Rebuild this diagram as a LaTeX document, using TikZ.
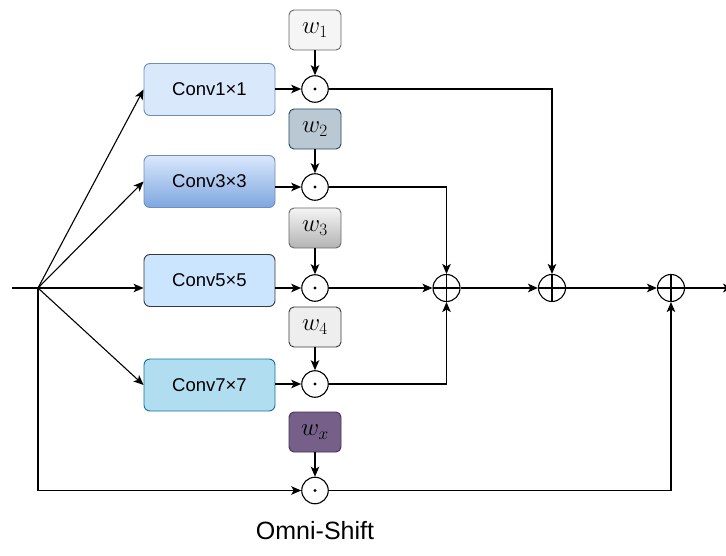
\documentclass[tikz,border=0pt]{standalone}
\usepackage{fontspec}
\setmainfont{Liberation Sans}
\usetikzlibrary{arrows.meta}
\definecolor{cOneFill}{HTML}{DAE8FC}
\definecolor{cOneLine}{HTML}{6C8EBF}
\definecolor{cTwoTop}{HTML}{DAE8FC}
\definecolor{cTwoBot}{HTML}{7EA6E0}
\definecolor{cThreeFill}{HTML}{CCE5FF}
\definecolor{cThreeLine}{HTML}{36393D}
\definecolor{cFourFill}{HTML}{B1DDF0}
\definecolor{cFourLine}{HTML}{10739E}
\definecolor{wOneFill}{HTML}{F5F5F5}
\definecolor{wOneLine}{HTML}{666666}
\definecolor{wTwoFill}{HTML}{BAC8D3}
\definecolor{wTwoLine}{HTML}{23445D}
\definecolor{wThreeBot}{HTML}{B3B3B3}
\definecolor{wFourFill}{HTML}{EEEEEE}
\definecolor{wXFill}{HTML}{76608A}
\definecolor{wXLine}{HTML}{432D57}
\tikzset{
  conv/.style={draw, rounded corners=6pt, minimum width=131pt, minimum height=52pt,
    line width=0.9pt, inner sep=0pt, font=\fontsize{18.5}{22}\selectfont},
  wbox/.style={draw, rounded corners=5pt, minimum width=52pt, minimum height=40pt,
    line width=0.9pt, inner sep=0pt, font=\fontsize{23}{26}\selectfont},
  odotc/.style={circle, draw, fill=white, minimum size=26.5pt, inner sep=0pt, line width=1.1pt,
    path picture={\fill[black] (path picture bounding box.center) circle (1.7pt);}},
  opluc/.style={circle, draw, fill=white, minimum size=27pt, inner sep=0pt, line width=1.1pt,
    path picture={\draw[black, line width=1.1pt] (path picture bounding box.north) -- (path picture bounding box.south)
      (path picture bounding box.west) -- (path picture bounding box.east);}},
  conn/.style={line width=1.1pt, -{Stealth[length=10pt,width=8.5pt,inset=2.5pt]}},
  plain/.style={line width=1.1pt}
}
\begin{document}
\begin{tikzpicture}[x=1pt,y=-1pt]
\useasboundingbox (0,0) rectangle (726,556);
% conv boxes
\node[conv, fill=cOneFill, draw=cOneLine] (c1) at (209.5,89.5) {Conv1×1};
\node[conv, top color=cTwoTop, bottom color=cTwoBot, draw=cOneLine] (c2) at (209.5,181.5) {Conv3×3};
\node[conv, fill=cThreeFill, draw=cThreeLine] (c3) at (209.5,280.5) {Conv5×5};
\node[conv, fill=cFourFill, draw=cFourLine] (c4) at (209.5,385) {Conv7×7};
% weight boxes
\node[wbox, fill=wOneFill, draw=wOneLine] (w1) at (315,30) {$w_1$};
\node[wbox, fill=wTwoFill, draw=wTwoLine] (w2) at (315,129) {$w_2$};
\node[wbox, top color=wOneFill, bottom color=wThreeBot, draw=wOneLine] (w3) at (315,228) {$w_3$};
\node[wbox, fill=wFourFill, draw=cThreeLine] (w4) at (315,327) {$w_4$};
\node[wbox, fill=wXFill, draw=wXLine] (wx) at (315,432) {$w_x$};
% odot circles
\node[odotc] (o1) at (315,89) {};
\node[odotc] (o2) at (315,187) {};
\node[odotc] (o3) at (315,288) {};
\node[odotc] (o4) at (315,384) {};
\node[odotc] (ox) at (315,490.5) {};
% oplus circles
\node[opluc] (p1) at (446.5,288) {};
\node[opluc] (p2) at (552,288) {};
\node[opluc] (p3) at (671,288) {};
% input
\coordinate (in) at (12,288);
\coordinate (j) at (38,288);
\coordinate (out) at (733,288);
\draw[plain] (in) -- (j);
\draw[conn] (j) -- (c1.west);
\draw[conn] (j) -- (c2.west);
\draw[conn] (j) -- (c3.west |- j);
\draw[conn] (j) -- (c4.west);
\draw[conn] (j) |- (ox);
% conv to odot
\draw[conn] (c1.east |- o1) -- (o1);
\draw[conn] (c2.east |- o2) -- (o2);
\draw[conn] (c3.east |- o3) -- (o3);
\draw[conn] (c4.east |- o4) -- (o4);
% weights to odot
\draw[conn] (w1) -- (o1);
\draw[conn] (w2) -- (o2);
\draw[conn] (w3) -- (o3);
\draw[conn] (w4) -- (o4);
\draw[conn] (wx) -- (ox);
% sums
\draw[conn] (o1) -| (p2);
\draw[conn] (o2) -| (p1);
\draw[conn] (o3) -- (p1);
\draw[conn] (o4) -| (p1);
\draw[conn] (p1) -- (p2);
\draw[conn] (p2) -- (p3);
\draw[conn] (ox) -| (p3);
\draw[conn] (p3) -- (out);
% title
\node[font=\fontsize{25}{28}\selectfont] (title) at (315,530.5) {Omni-Shift};
\end{tikzpicture}
\end{document}
